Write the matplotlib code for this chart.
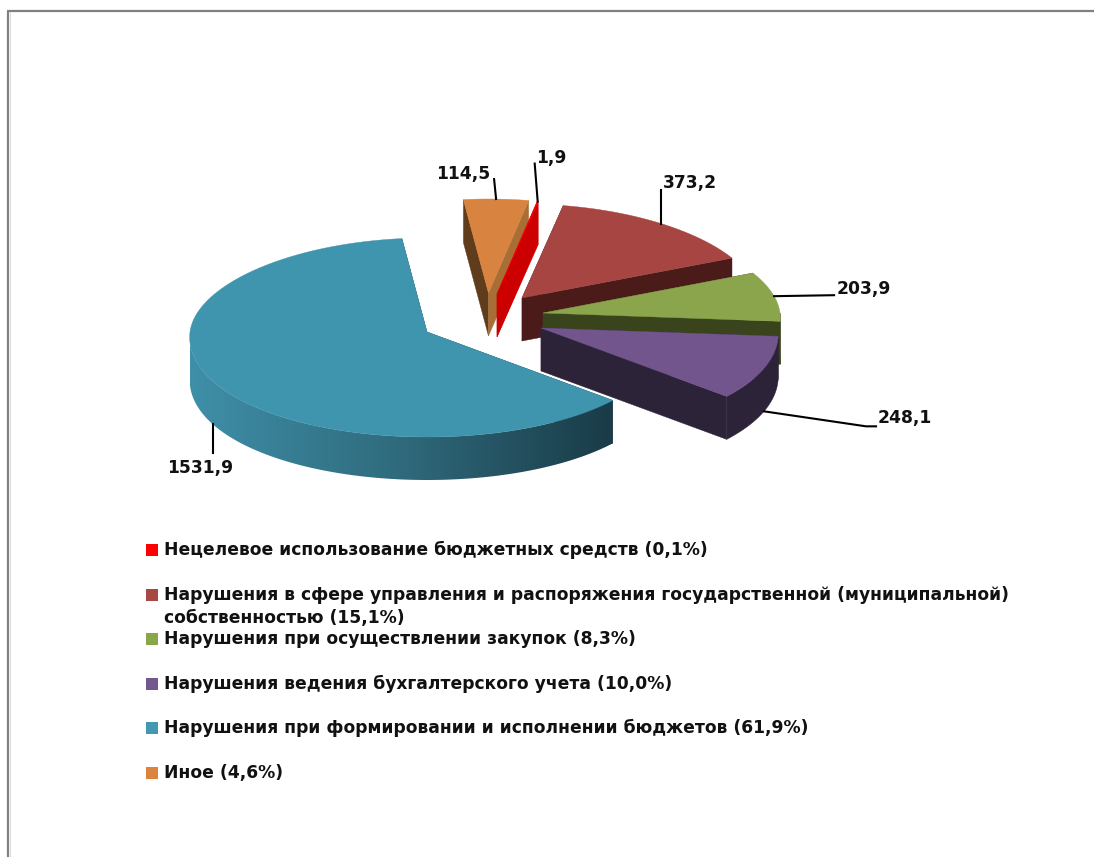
import numpy as np
import matplotlib
matplotlib.use('Agg')
import matplotlib.pyplot as plt
from matplotlib.colors import LinearSegmentedColormap
from matplotlib.patches import Polygon, Rectangle

# Data, in pie order (clockwise)
values = [114.5, 1.9, 373.2, 203.9, 248.1, 1531.9]
value_labels = ['114,5', '1,9', '373,2', '203,9', '248,1', '1531,9']

legend_labels = [
    'Нецелевое использование бюджетных средств (0,1%)',
    'Нарушения в сфере управления и распоряжения государственной (муниципальной)\nсобственностью (15,1%)',
    'Нарушения при осуществлении закупок (8,3%)',
    'Нарушения ведения бухгалтерского учета (10,0%)',
    'Нарушения при формировании и исполнении бюджетов (61,9%)',
    'Иное (4,6%)',
]
legend_colors = ['#FF0000', '#A94744', '#8AA64D', '#71588F', '#4198AF', '#DB843D']

# Styles per slice, same order as values
top_colors = ['#D8833F', '#FF0000', '#A64542', '#8AA54C', '#72558C', '#3F95AE']
wall_start = ['#5E3C1C', '#CC0000', '#4B1B1A', '#3A441C', '#2D2339', '#1A3C48']
wall_end = ['#A86E36', '#CC0000', '#4B1B1A', '#3A441C', '#2D2339', '#1A3C48']
shift_x = [-1.5, 7, 32, 53, 51, -63]
shift_y = [-22, -21, -17, -2, 13, 17]
# leader line end and label position, relative to the slice anchor
leader_dx = [-2, -3, 0, 60, 102, 0]
leader_dy = [-20, -38, -34, -1, 15, 29]
label_tx = [-4, 1, 2, 3, 0, -12]
label_ty = [-5, -6, -7, -6, -8, 15]
label_ha = ['right', 'left', 'left', 'left', 'left', 'center']

# Geometry of the squashed pie
center_x, center_y = 490, 315
rx, ry_back, ry_front = 237, 94, 105
depth = 43
start_angle = 96.4
font_size = 12.35
blue_rim = LinearSegmentedColormap.from_list('rim', ['#3F8FA8', '#2F6A7C', '#1A3B47'])


def rim_point(cx, cy, t_deg):
    t = np.radians(t_deg)
    s = np.sin(t)
    x = cx + rx * np.cos(t) * (1 - 0.05 * s)
    y = cy - np.where(s > 0, ry_back, ry_front) * s
    return x, y


fig = plt.figure(figsize=(10.94, 8.57), dpi=100)
ax = fig.add_axes([0, 0, 1, 1])
ax.axis('off')

# Frame of the screenshot
ax.plot([8, 8], [857, 11], color='#808080', lw=1.6, solid_capstyle='butt')
ax.plot([7, 1094], [11, 11], color='#808080', lw=1.6, solid_capstyle='butt')
ax.plot([9.7, 9.7], [857, 12], color='#D9D9D9', lw=0.7)

spans = 360 * np.array(values) / sum(values)
angle = start_angle
slices = []
for i in range(len(values)):
    t0, t1 = angle, angle - spans[i]
    angle = t1
    slices.append((i, t0, t1, center_x + shift_x[i], center_y + shift_y[i]))

# back slices first, blue one goes on top of everything
for i, t0, t1, cx, cy in slices:
    for t, col in [(t0, wall_start[i]), (t1, wall_end[i])]:
        x, y = rim_point(cx, cy, t)
        ax.add_patch(Polygon([(cx, cy), (x, y), (x, y + depth), (cx, cy + depth)],
                             facecolor=col, edgecolor=col, lw=0.3))

    # visible outer wall, only the front part of the ellipse
    ts = np.linspace(t0, t1, 300)
    front = ts[np.sin(np.radians(ts)) < 0]
    if len(front) > 1:
        xs, ys = rim_point(cx, cy, front)
        outline = list(zip(xs, ys)) + list(zip(xs[::-1], ys[::-1] + depth))
        if i == 5:
            wall = Polygon(outline, facecolor='none', edgecolor='none')
            ax.add_patch(wall)
            shade = ax.imshow(np.linspace(0, 1, 256).reshape(1, -1), cmap=blue_rim, aspect='auto',
                              extent=(xs.min(), xs.max(), 857, 0), zorder=1)
            shade.set_clip_path(wall)
        else:
            ax.add_patch(Polygon(outline, facecolor=wall_start[i], edgecolor=wall_start[i], lw=0.3))

    xs, ys = rim_point(cx, cy, ts)
    pts = [(cx, cy)] + list(zip(xs, ys))
    ax.add_patch(Polygon(pts, facecolor=top_colors[i], edgecolor=top_colors[i], lw=0.3, zorder=1.5 if i == 5 else 1))

# Leader lines and value labels, anchored on the middle of each slice
for i, t0, t1, cx, cy in slices:
    mid = (t0 + t1) / 2
    x, y = rim_point(cx, cy, mid)
    if np.sin(np.radians(mid)) < 0 and i != 3:
        y = y + depth
    ex, ey = x + leader_dx[i], y + leader_dy[i]
    if i == 4:
        # this one has a small horizontal elbow
        ax.plot([x, ex, ex + 10], [y, ey, ey], color='black', lw=1.5, zorder=2)
        ex = ex + 12
    else:
        ax.plot([x, ex], [y, ey], color='black', lw=1.5, zorder=2)
    ax.text(ex + label_tx[i], ey + label_ty[i], value_labels[i], ha=label_ha[i], va='center',
            fontsize=font_size, fontweight='bold', family='DejaVu Sans', color='#111111')

# Legend, one row every 44.6 px
for k, (lab, col) in enumerate(zip(legend_labels, legend_colors)):
    y = 550 + k * 44.6
    ax.add_patch(Rectangle((146, y - 6), 12, 12, facecolor=col, edgecolor='none', zorder=2))
    for n, line in enumerate(lab.split('\n')):
        ax.text(164, y + 5 + n * 23, line, ha='left', va='baseline', fontsize=font_size,
                fontweight='bold', family='DejaVu Sans', color='#111111')

ax.set_xlim(0, 1094)
ax.set_ylim(857, 0)
fig.savefig('out.png', dpi=100)
